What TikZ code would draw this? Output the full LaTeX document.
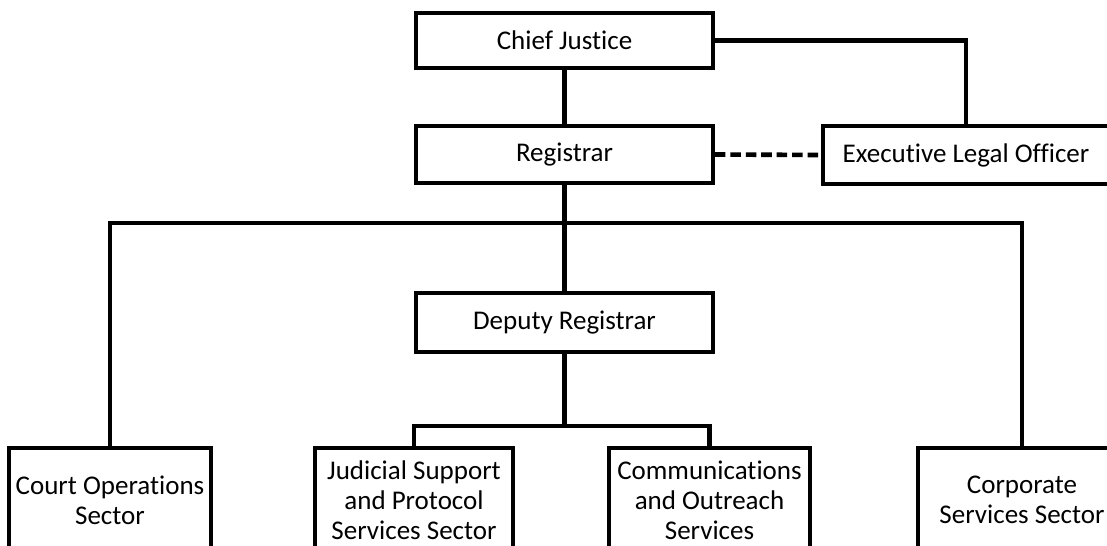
\documentclass[tikz,border=0pt]{standalone}
\usepackage{fontspec}
\setmainfont[Ligatures=NoCommon]{Carlito}
\usepackage{tikz}

\tikzset{
  unit/.style={draw, fill=white, line width=2.6pt, inner sep=0pt, align=center,
    font=\fontsize{19.2}{21.3}\selectfont},
  link/.style={line width=3.3pt}
}

\begin{document}
\begin{tikzpicture}
  \useasboundingbox (0cm,0cm) rectangle (27.675cm,-13.65cm);
  \node[unit, minimum width=7.425cm, minimum height=1.375cm] (cj) at (14.1125cm,-1.0125cm) {Chief Justice};
  \node[unit, minimum width=7.425cm, minimum height=1.425cm] (reg) at (14.1125cm,-3.8625cm) {Registrar};
  \node[unit, minimum width=7.15cm, minimum height=1.45cm] (elo) at (24.15cm,-3.875cm) {Executive Legal Officer};
  \node[unit, minimum width=7.425cm, minimum height=1.475cm] (dep) at (14.1125cm,-8.0625cm) {Deputy Registrar};
  \node[unit, minimum width=5.05cm, minimum height=2.6cm] (court) at (2.75cm,-12.5cm) {Court Operations\\Sector};
  \node[unit, minimum width=4.95cm, minimum height=2.6cm] (jud) at (10.35cm,-12.5cm) {Judicial Support\\and Protocol\\Services Sector};
  \node[unit, minimum width=5.025cm, minimum height=2.6cm] (comm) at (17.7375cm,-12.5cm) {Communications\\and Outreach\\Services};
  \node[unit, minimum width=5.2cm, minimum height=2.6cm] (corp) at (25.55cm,-12.5cm) {Corporate\\Services Sector};
  \coordinate (bus) at (14.1125cm,-5.575cm);
  \coordinate (subbus) at (14.1125cm,-10.65cm);
  \draw[link] (cj.south) -- (reg.north);
  \draw[link] (cj.east) -| (elo.north);
  \draw[link, dash pattern=on 7.5pt off 3.5pt] (reg.east) -- (elo.west);
  \draw[link] (reg.south) -- (dep.north);
  \draw[link] (court.north) |- (bus) -| (corp.north);
  \draw[link] (dep.south) -- (subbus);
  \draw[link] (jud.north) |- (subbus) -| (comm.north);
\end{tikzpicture}
\end{document}
